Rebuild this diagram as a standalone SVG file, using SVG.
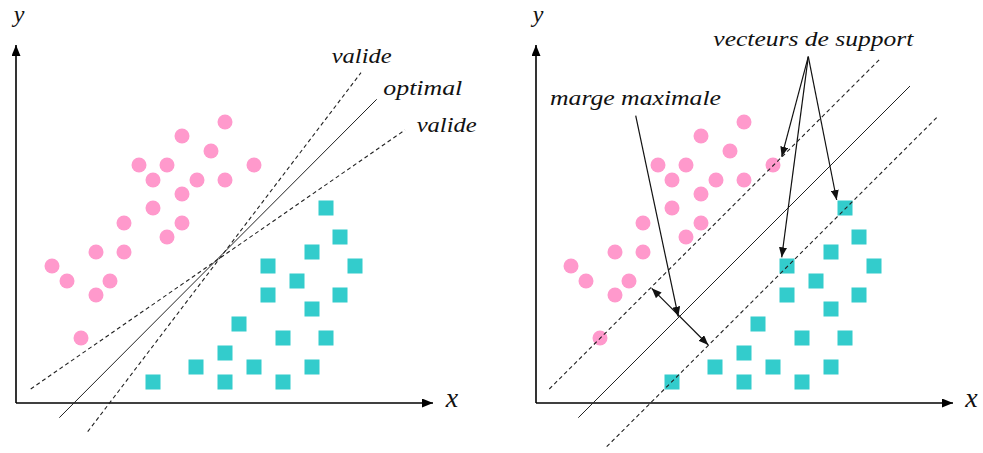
<svg xmlns="http://www.w3.org/2000/svg" xmlns:xlink="http://www.w3.org/1999/xlink" width="983" height="453" viewBox="0 0 983 453">
<style>
.ax{stroke:#000;stroke-width:1.6;fill:none}
.ln{stroke:#222;stroke-width:1;fill:none}
.ds{stroke:#222;stroke-width:1.1;fill:none;stroke-dasharray:4 3}
.ar{stroke:#111;stroke-width:1.2;fill:none}
.lbl{font-family:"Liberation Serif","Times New Roman",serif;font-style:italic;font-size:21px;fill:#111}
.axl{font-family:"Liberation Serif","Times New Roman",serif;font-style:italic;font-size:24px;fill:#111;text-anchor:middle}
.axx{font-family:"Liberation Serif","Times New Roman",serif;font-style:italic;font-size:28px;fill:#111;text-anchor:middle}
</style>
<defs>
<marker id="ah" markerUnits="userSpaceOnUse" markerWidth="11" markerHeight="9" refX="11" refY="4.5" orient="auto"><path d="M0,0 L11,4.5 L0,9 z" fill="#000"/></marker>
<marker id="sa" markerUnits="userSpaceOnUse" markerWidth="10" markerHeight="8" refX="10" refY="4" orient="auto"><path d="M0,0 L10,4 L0,8 z" fill="#111"/></marker>
<marker id="sb" markerUnits="userSpaceOnUse" markerWidth="10" markerHeight="8" refX="0" refY="4" orient="auto"><path d="M10,0 L0,4 L10,8 z" fill="#111"/></marker>
<circle id="c" r="7.5" fill="#ff99cc"/>
<rect id="s" x="-7.5" y="-7.5" width="15" height="15" fill="#33cccc"/>
</defs>

<g id="left-panel">
<g id="left-axes">
<line class="ax" x1="16" y1="403" x2="16" y2="45" marker-end="url(#ah)"/>
<line class="ax" x1="16" y1="403" x2="433" y2="403" marker-end="url(#ah)"/>
<text class="axl" x="19" y="22">y</text>
<text class="axx" x="452" y="407">x</text>
</g>
<g id="left-class1">
<use href="#c" x="225" y="122"/><use href="#c" x="182" y="136"/><use href="#c" x="211" y="151"/>
<use href="#c" x="139" y="165"/><use href="#c" x="167" y="165"/><use href="#c" x="254" y="165"/>
<use href="#c" x="153" y="180"/><use href="#c" x="197" y="180"/><use href="#c" x="225" y="180"/>
<use href="#c" x="182" y="194"/><use href="#c" x="153" y="208"/><use href="#c" x="124" y="223"/>
<use href="#c" x="182" y="223"/><use href="#c" x="167" y="237"/><use href="#c" x="96" y="252"/>
<use href="#c" x="124" y="252"/><use href="#c" x="52" y="266"/><use href="#c" x="67" y="281"/>
<use href="#c" x="110" y="281"/><use href="#c" x="96" y="295"/><use href="#c" x="81" y="338"/>
</g>
<g id="left-class2">
<use href="#s" x="326" y="208"/><use href="#s" x="340" y="237"/><use href="#s" x="312" y="252"/>
<use href="#s" x="268" y="266"/><use href="#s" x="355" y="266"/><use href="#s" x="297" y="281"/>
<use href="#s" x="268" y="295"/><use href="#s" x="340" y="295"/><use href="#s" x="312" y="309"/>
<use href="#s" x="239" y="324"/><use href="#s" x="283" y="338"/><use href="#s" x="326" y="338"/>
<use href="#s" x="225" y="353"/><use href="#s" x="196" y="367"/><use href="#s" x="254" y="367"/>
<use href="#s" x="312" y="367"/><use href="#s" x="153" y="382"/><use href="#s" x="225" y="382"/>
<use href="#s" x="283" y="382"/>
</g>
<g id="left-lines">
<line class="ln" x1="59.3" y1="417.7" x2="376.7" y2="99.3"/>
<line class="ds" x1="87.7" y1="431.7" x2="361" y2="72.7"/>
<line class="ds" x1="30.7" y1="389" x2="405" y2="130"/>
</g>
<g id="left-labels">
<text class="lbl" x="331.7" y="63" textLength="60" lengthAdjust="spacingAndGlyphs">valide</text>
<text class="lbl" x="383.3" y="95" textLength="79" lengthAdjust="spacingAndGlyphs">optimal</text>
<text class="lbl" x="416.7" y="131.7" textLength="60" lengthAdjust="spacingAndGlyphs">valide</text>
</g>
</g>

<g id="right-panel">
<g id="right-axes">
<line class="ax" x1="536" y1="403" x2="536" y2="45" marker-end="url(#ah)"/>
<line class="ax" x1="536" y1="403" x2="953" y2="403" marker-end="url(#ah)"/>
<text class="axl" x="538" y="22">y</text>
<text class="axx" x="971.5" y="407">x</text>
</g>
<g id="right-class1" transform="translate(519,0)">
<use href="#c" x="225" y="122"/><use href="#c" x="182" y="136"/><use href="#c" x="211" y="151"/>
<use href="#c" x="139" y="165"/><use href="#c" x="167" y="165"/><use href="#c" x="254" y="165"/>
<use href="#c" x="153" y="180"/><use href="#c" x="197" y="180"/><use href="#c" x="225" y="180"/>
<use href="#c" x="182" y="194"/><use href="#c" x="153" y="208"/><use href="#c" x="124" y="223"/>
<use href="#c" x="182" y="223"/><use href="#c" x="167" y="237"/><use href="#c" x="96" y="252"/>
<use href="#c" x="124" y="252"/><use href="#c" x="52" y="266"/><use href="#c" x="67" y="281"/>
<use href="#c" x="110" y="281"/><use href="#c" x="96" y="295"/><use href="#c" x="81" y="338"/>
</g>
<g id="right-class2" transform="translate(519,0)">
<use href="#s" x="326" y="208"/><use href="#s" x="340" y="237"/><use href="#s" x="312" y="252"/>
<use href="#s" x="268" y="266"/><use href="#s" x="355" y="266"/><use href="#s" x="297" y="281"/>
<use href="#s" x="268" y="295"/><use href="#s" x="340" y="295"/><use href="#s" x="312" y="309"/>
<use href="#s" x="239" y="324"/><use href="#s" x="283" y="338"/><use href="#s" x="326" y="338"/>
<use href="#s" x="225" y="353"/><use href="#s" x="196" y="367"/><use href="#s" x="254" y="367"/>
<use href="#s" x="312" y="367"/><use href="#s" x="153" y="382"/><use href="#s" x="225" y="382"/>
<use href="#s" x="283" y="382"/>
</g>
<g id="right-lines">
<line class="ln" x1="578.3" y1="417.7" x2="910" y2="86"/>
<line class="ds" x1="549.3" y1="389" x2="880.7" y2="58.3"/>
<line class="ds" x1="606.7" y1="446.7" x2="938.3" y2="116"/>
</g>
<g id="connectors">
<line class="ar" x1="651.7" y1="288.3" x2="708.3" y2="345" marker-start="url(#sb)" marker-end="url(#sa)"/>
<line class="ar" x1="635.7" y1="115.7" x2="678.3" y2="316.7" marker-end="url(#sa)"/>
<line class="ar" x1="808.3" y1="56.7" x2="781.7" y2="156.7" marker-end="url(#sa)"/>
<line class="ar" x1="808.3" y1="56.7" x2="781.7" y2="257.3" marker-end="url(#sa)"/>
<line class="ar" x1="808.3" y1="56.7" x2="836.7" y2="200" marker-end="url(#sa)"/>
</g>
<g id="right-labels">
<text class="lbl" x="713.3" y="46" textLength="200" lengthAdjust="spacingAndGlyphs">vecteurs de support</text>
<text class="lbl" x="550" y="105" textLength="171" lengthAdjust="spacingAndGlyphs">marge maximale</text>
</g>
</g>
</svg>
